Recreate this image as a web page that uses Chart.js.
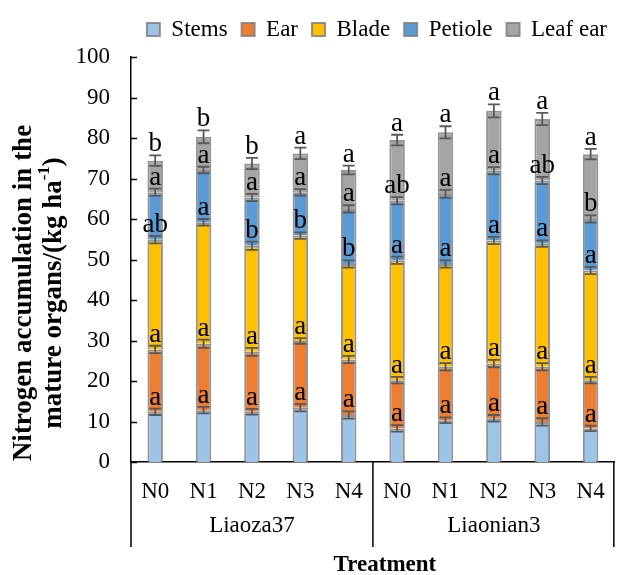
<!DOCTYPE html>
<html lang="en">
<head>
<meta charset="UTF-8">
<title>Nitrogen accumulation in the mature organs</title>
<script src="https://cdn.jsdelivr.net/npm/chart.js@4.4.1/dist/chart.umd.min.js"></script>
<style>
    body {
        margin: 0;
        background-color: #ffffff;
    }
    #wrap {
        width: 621px;
        height: 575px;
    }
</style>
</head>
<body>
<div id="wrap"><canvas id="chart" width="621" height="575"></canvas></div>
<script>
    // categories
    const treatments = ['N0', 'N1', 'N2', 'N3', 'N4', 'N0', 'N1', 'N2', 'N3', 'N4'];
    const varieties = ['Liaoza37', 'Liaonian3'];
    const yTicks = [0, 10, 20, 30, 40, 50, 60, 70, 80, 90, 100];

    // segment values (kg ha-1)
    const stems   = [12.4, 12.8, 12.4, 13.4, 11.6, 8.3, 10.3, 10.8, 9.9, 8.3];
    const ear     = [15.4, 16.4, 14.8, 16.5, 13.7, 11.9, 13.2, 13.5, 13.6, 11.9];
    const blade   = [27.1, 30.0, 26.2, 26.0, 23.6, 29.6, 25.4, 30.4, 30.4, 27.1];
    const petiole = [11.7, 12.9, 11.9, 10.7, 13.6, 14.7, 17.3, 17.2, 15.6, 12.7];
    const leafEar = [7.8, 8.2, 8.4, 9.6, 9.6, 15.0, 15.2, 14.8, 15.2, 16.0];

    // error bar half-lengths
    const stemsErr   = [0.8, 0.8, 0.7, 0.9, 0.9, 0.8, 0.7, 0.8, 0.9, 0.7];
    const earErr     = [0.9, 1.0, 1.0, 0.7, 0.9, 0.8, 0.9, 0.9, 0.9, 0.8];
    const bladeErr   = [0.9, 0.8, 1.0, 0.8, 0.9, 0.9, 0.9, 0.9, 0.8, 0.9];
    const petioleErr = [0.9, 0.8, 0.9, 0.8, 0.9, 0.9, 1.0, 0.9, 0.9, 0.9];
    const leafEarErr = [1.3, 1.6, 1.4, 1.4, 1.1, 1.3, 1.5, 1.6, 1.5, 1.3];

    // significance letters
    const stemsSig   = ['a', 'a', 'a', 'a', 'a', 'a', 'a', 'a', 'a', 'a'];
    const earSig     = ['a', 'a', 'a', 'a', 'a', 'a', 'a', 'a', 'a', 'a'];
    const bladeSig   = ['ab', 'a', 'b', 'b', 'b', 'a', 'a', 'a', 'a', 'a'];
    const petioleSig = ['a', 'a', 'a', 'a', 'a', 'ab', 'a', 'a', 'ab', 'b'];
    const leafEarSig = ['b', 'b', 'b', 'a', 'a', 'a', 'a', 'a', 'a', 'a'];

    const serif = "'Liberation Serif', 'Times New Roman', serif";

    const series = [
        { label: 'Stems', data: stems, err: stemsErr, sig: stemsSig, color: '#9DC3E6' },
        { label: 'Ear', data: ear, err: earErr, sig: earSig, color: '#ED7D31' },
        { label: 'Blade', data: blade, err: bladeErr, sig: bladeSig, color: '#FFC000' },
        { label: 'Petiole', data: petiole, err: petioleErr, sig: petioleSig, color: '#5B9BD5' },
        { label: 'Leaf ear', data: leafEar, err: leafEarErr, sig: leafEarSig, color: '#A5A5A5' }
    ];

    // error bars, letters, inner y ticks, group labels and titles
    const extras = {
        id: 'extras',
        afterDatasetsDraw(chart) {
            const { ctx, scales: { x, y } } = chart;
            ctx.save();

            ctx.strokeStyle = '#000';
            ctx.lineWidth = 1.5;
            yTicks.forEach(v => {
                const py = Math.round(y.getPixelForValue(v)) + 0.5;
                ctx.beginPath();
                ctx.moveTo(x.left, py);
                ctx.lineTo(x.left + 6, py);
                ctx.stroke();
            });

            const tops = treatments.map(() => 0);
            ctx.font = '27px ' + serif;
            ctx.textAlign = 'center';
            ctx.textBaseline = 'alphabetic';
            series.forEach(s => {
                s.data.forEach((v, j) => {
                    tops[j] += v;
                    const cx = x.getPixelForValue(j);
                    const yHi = y.getPixelForValue(tops[j] + s.err[j]);
                    const yLo = y.getPixelForValue(tops[j] - s.err[j]);
                    ctx.strokeStyle = '#595959';
                    ctx.lineWidth = 1.8;
                    ctx.beginPath();
                    ctx.moveTo(cx, yHi);
                    ctx.lineTo(cx, yLo);
                    ctx.moveTo(cx - 6, yHi);
                    ctx.lineTo(cx + 6, yHi);
                    ctx.moveTo(cx - 6, yLo);
                    ctx.lineTo(cx + 6, yLo);
                    ctx.stroke();
                    ctx.fillStyle = '#000';
                    ctx.fillText(s.sig[j], cx, yHi - 4);
                });
            });
            ctx.restore();
        },
        afterDraw(chart) {
            const { ctx, scales: { x, y } } = chart;
            ctx.save();
            ctx.fillStyle = '#000';
            ctx.strokeStyle = '#000';
            ctx.lineWidth = 1.5;

            // group separators and labels
            const half = treatments.length / 2;
            const sepX = [x.left, (x.getPixelForValue(half - 1) + x.getPixelForValue(half)) / 2, x.right - 1];
            sepX.forEach(px => {
                ctx.beginPath();
                ctx.moveTo(px, x.top);
                ctx.lineTo(px, x.top + 85);
                ctx.stroke();
            });
            ctx.font = '23px ' + serif;
            ctx.textAlign = 'center';
            ctx.textBaseline = 'middle';
            varieties.forEach((name, g) => {
                const cx = (x.getPixelForValue(g * half) + x.getPixelForValue(g * half + half - 1)) / 2;
                ctx.fillText(name, cx, x.top + 64);
            });

            ctx.font = 'bold 23px ' + serif;
            ctx.fillText('Treatment', (x.left + x.right) / 2 + 12, x.top + 103);

            // rotated y title with superscript
            const cy = 293;
            ctx.translate(24, cy);
            ctx.rotate(-Math.PI / 2);
            ctx.font = 'bold 27px ' + serif;
            ctx.fillText('Nitrogen accumulation in the', 0, 0);
            const main = 'mature organs/(kg ha';
            const sup = '-1';
            const close = ')';
            const wMain = ctx.measureText(main).width;
            const wClose = ctx.measureText(close).width;
            ctx.font = 'bold 17px ' + serif;
            const wSup = ctx.measureText(sup).width;
            let sx = -(wMain + wSup + wClose) / 2;
            ctx.textAlign = 'left';
            ctx.font = 'bold 27px ' + serif;
            ctx.fillText(main, sx, 30);
            sx += wMain;
            ctx.font = 'bold 17px ' + serif;
            ctx.fillText(sup, sx, 30 - 9);
            sx += wSup;
            ctx.font = 'bold 27px ' + serif;
            ctx.fillText(close, sx, 30);
            ctx.restore();
        }
    };

    new Chart(document.getElementById('chart'), {
        type: 'bar',
        data: {
            labels: treatments,
            datasets: series.map(s => ({
                label: s.label,
                data: s.data,
                backgroundColor: s.color,
                borderColor: 'rgba(128, 128, 128, 0.85)',
                borderWidth: 2,
                categoryPercentage: 1,
                barPercentage: 0.32
            }))
        },
        options: {
            responsive: false,
            animation: false,
            layout: { padding: { top: 4, left: 0, right: 0, bottom: 0 } },
            plugins: {
                legend: {
                    position: 'top',
                    align: 'end',
                    labels: {
                        font: { family: serif, size: 23 },
                        color: '#000',
                        boxWidth: 13,
                        boxHeight: 13,
                        padding: 14
                    }
                },
                tooltip: { enabled: false }
            },
            scales: {
                x: {
                    stacked: true,
                    offset: true,
                    grid: { display: false, drawTicks: false },
                    border: { display: true, color: '#000', width: 1.5 },
                    ticks: {
                        font: { family: serif, size: 23 },
                        color: '#000',
                        padding: 16,
                        maxRotation: 0,
                        autoSkip: false
                    },
                    afterFit(scale) { scale.height = 113; }
                },
                // empty strip that keeps the legend clear of the plot
                gap: {
                    type: 'category',
                    position: 'top',
                    grid: { display: false, drawTicks: false },
                    border: { display: false },
                    ticks: { display: false },
                    afterFit(scale) { scale.height = 6; }
                },
                y: {
                    stacked: true,
                    min: 0,
                    max: 100,
                    grid: { display: false, drawTicks: false },
                    border: { display: true, color: '#000', width: 1.5 },
                    ticks: {
                        stepSize: 10,
                        font: { family: serif, size: 23 },
                        color: '#000',
                        padding: 21
                    },
                    afterFit(scale) { scale.width = 131; }
                }
            }
        },
        plugins: [extras]
    });
</script>
</body>
</html>
